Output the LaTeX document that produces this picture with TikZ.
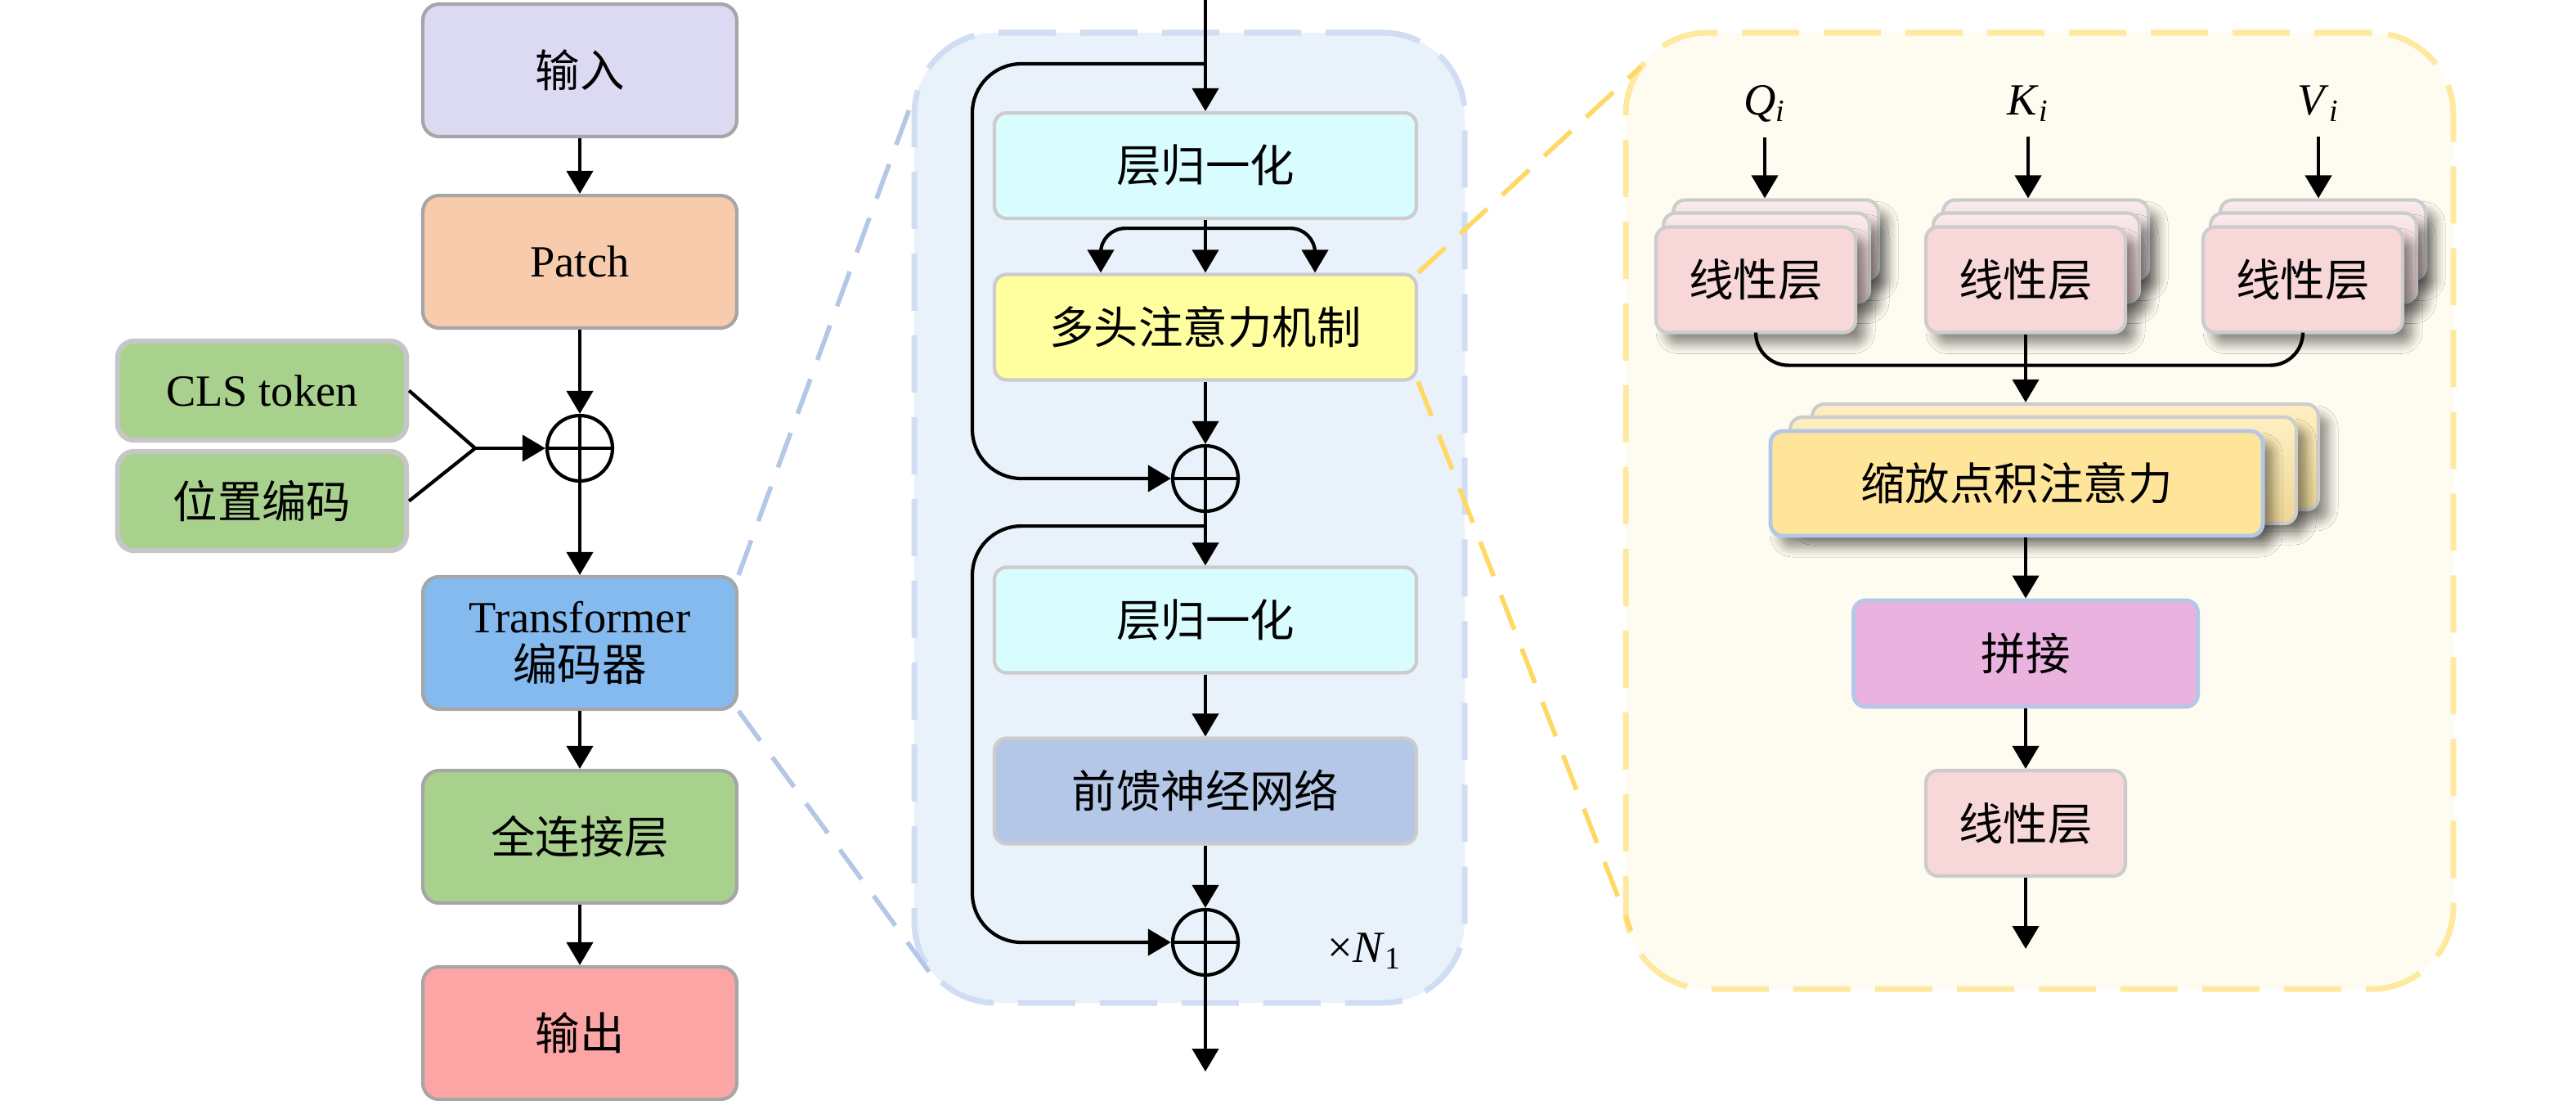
\documentclass[tikz,border=0pt]{standalone}
\usepackage{fontspec}
\setmainfont{Liberation Serif}
\newfontfamily\cjk{Noto Sans CJK SC}
\usetikzlibrary{positioning,arrows.meta,shadows.blur}

\definecolor{inputcol}{RGB}{220,218,242}
\definecolor{patchcol}{RGB}{248,203,173}
\definecolor{greencol}{RGB}{169,209,142}
\definecolor{transcol}{RGB}{133,186,238}
\definecolor{outcol}{RGB}{252,165,165}
\definecolor{normcol}{RGB}{217,252,255}
\definecolor{mhacol}{RGB}{255,255,160}
\definecolor{ffncol}{RGB}{180,199,231}
\definecolor{linecol}{RGB}{248,215,217}
\definecolor{sdpacol}{RGB}{255,229,153}
\definecolor{catcol}{RGB}{234,179,223}
\definecolor{encfill}{RGB}{233,241,250}
\definecolor{encline}{RGB}{208,221,243}
\definecolor{attfill}{RGB}{254,251,240}
\definecolor{attline}{RGB}{255,233,160}
\definecolor{bluedash}{RGB}{180,199,231}
\definecolor{yellowdash}{RGB}{255,217,102}

\newcommand{\zh}[1]{{\cjk #1}}

\begin{document}
\begin{tikzpicture}[on grid,
    font=\fontsize{15.5pt}{18pt}\selectfont,
    block/.style={draw=gray!70, line width=1.2pt, rounded corners=2mm, minimum width=3.84cm, minimum height=1.62cm, align=center, inner sep=0pt},
    tokbox/.style={block, draw=gray!45, line width=1.8pt, fill=greencol, minimum width=3.53cm, minimum height=1.21cm},
    encbox/.style={draw=gray!40, line width=1.2pt, rounded corners=1.5mm, minimum width=5.16cm, minimum height=1.29cm, inner sep=0pt},
    softshadow/.style={blur shadow={shadow xshift=1.2mm, shadow yshift=-1.4mm, shadow blur radius=1.2mm, shadow blur steps=8, shadow opacity=45}},
    linbox/.style={draw=gray!40, line width=1.2pt, rounded corners=1.5mm, fill=linecol, minimum width=2.44cm, minimum height=1.29cm, inner sep=0pt},
    linback/.style={linbox, softshadow, top color=linecol!50!white, bottom color=linecol!80!gray},
    sdpaback/.style={draw=gray!40, line width=1.2pt, rounded corners=1.5mm, softshadow, top color=sdpacol!60!white, bottom color=sdpacol!85!gray, minimum width=6.19cm, minimum height=1.29cm},
    addop/.style={circle, draw, line width=1.2pt, minimum size=0.8cm, inner sep=0pt,
        path picture={\draw[line width=1.2pt] (path picture bounding box.north) -- (path picture bounding box.south)
            (path picture bounding box.west) -- (path picture bounding box.east);}},
    arr/.style={-{Triangle[length=2.8mm,width=3.2mm]}, line width=1.2pt},
    wire/.style={line width=1.2pt},
    zoomline/.style={dash pattern=on 4.5mm off 2.5mm, line width=1.6pt},
    panel/.style={line width=2pt, dash pattern=on 7mm off 3mm, rounded corners=1cm}
]
\useasboundingbox (0,0) rectangle (31.5,-13.45);

% left column
\node[block, fill=inputcol] (input) at (7.09,-0.86) {\zh{输入}};
\node[block, fill=patchcol, below=2.34cm of input] (patch) {Patch};
\node[addop, below=2.28cm of patch] (add0) {};
\node[block, fill=transcol, below=2.38cm of add0] (trans) {Transformer\\[-1pt]\zh{编码器}};
\node[block, fill=greencol, below=2.37cm of trans] (fc) {\zh{全连接层}};
\node[block, fill=outcol, below=2.40cm of fc] (output) {\zh{输出}};
\node[tokbox, above left=0.705cm and 3.885cm of add0] (cls) {CLS token};
\node[tokbox, below=1.35cm of cls] (pos) {\zh{位置编码}};
\coordinate[left=1.28cm of add0] (join);

\draw[arr] (input) -- (patch);
\draw[arr] (patch) -- (add0);
\draw[arr] (add0) -- (trans);
\draw[arr] (trans) -- (fc);
\draw[arr] (fc) -- (output);
\draw[wire] (cls.east) -- (join) -- (pos.east);
\draw[arr] (join) -- (add0.west);

% encoder panel
\node[panel, draw=encline, fill=encfill, minimum width=6.73cm, minimum height=11.86cm] (enc) at (14.545,-6.33) {};
\node[encbox, fill=normcol] (norm1) at (14.74,-2.025) {\zh{层归一化}};
\node[encbox, fill=mhacol, below=1.975cm of norm1] (mha) {\zh{多头注意力机制}};
\node[addop, below=1.85cm of mha] (add1) {};
\node[encbox, fill=normcol, below=1.73cm of add1] (norm2) {\zh{层归一化}};
\node[encbox, fill=ffncol, below=2.09cm of norm2] (ffn) {\zh{前馈神经网络}};
\node[addop, below=1.85cm of ffn] (add2) {};
\node[right=1.95cm of add2, yshift=-0.11cm] (rep) {×\textit{N}\textsubscript{1}};

\coordinate (encin) at (14.74,0);
\coordinate[below=0.78cm of encin] (skip1);
\coordinate[below=0.16cm of add1.south] (skip2);
\coordinate (rail) at (11.89,0);
\coordinate[below=0.1cm of norm1.south] (split);
\coordinate[below=1.58cm of add2] (encout);

\draw[arr] (encin) -- (norm1.north);
\draw[arr, rounded corners=6mm] (skip1) -| (rail |- add1.west) -- (add1.west);
\draw[arr] (norm1.south) -- (mha.north);
\draw[arr, rounded corners=3mm] (split) -| ([xshift=-1.28cm]mha.north);
\draw[arr, rounded corners=3mm] (split) -| ([xshift=1.34cm]mha.north);
\draw[arr] (mha.south) -- (add1.north);
\draw[arr] (add1.south) -- (norm2.north);
\draw[arr, rounded corners=6mm] (skip2) -| (rail |- add2.west) -- (add2.west);
\draw[arr] (norm2.south) -- (ffn.north);
\draw[arr] (ffn.south) -- (add2.north);
\draw[arr] (add2.south) -- (encout);

% attention panel
\node[panel, draw=attline, fill=attfill, minimum width=10.12cm, minimum height=11.69cm] (att) at (24.94,-6.245) {};

\draw[zoomline, draw=bluedash] (trans.north east) -- ([yshift=-0.9cm]enc.north west);
\draw[zoomline, draw=bluedash] (trans.south east) -- ([shift={(0.3,0.3)}]enc.south west);
\draw[zoomline, draw=yellowdash] (mha.north east) -- ([shift={(0.22,-0.45)}]att.north west);
\draw[zoomline, draw=yellowdash] (mha.south east) -- ([shift={(0.1,0.75)}]att.south west);

\foreach \name/\x in {lq/21.47, lk/24.77, lv/28.16} {
  \node[linback, minimum width=2.51cm, minimum height=0.97cm] (\name2) at (\x+0.245,-2.93) {};
  \node[linback, minimum width=2.52cm, minimum height=1.09cm] (\name1) at (\x+0.13,-3.15) {};
  \node[linbox, softshadow] (\name) at (\x,-3.42) {\zh{线性层}};
}
\node (qin) at (21.58,-1.27) {\textit{Q}\textsubscript{\textit{i}}};
\node (kin) at (24.80,-1.27) {\textit{K}\textsubscript{\textit{i}}};
\node (vin) at (28.35,-1.27) {\textit{V}\textsubscript{\textit{i}}};

\node[sdpaback] (sdpa2) at (25.255,-5.585) {};
\node[sdpaback, minimum height=1.30cm] (sdpa1) at (24.985,-5.75) {};
\node[draw=bluedash, line width=1.4pt, rounded corners=1.5mm, fill=sdpacol, softshadow, minimum width=6.02cm, minimum height=1.28cm] (sdpa) at (24.66,-5.91) {\zh{缩放点积注意力}};
\node[draw=bluedash, line width=1.4pt, rounded corners=1.5mm, fill=catcol, minimum width=4.21cm, minimum height=1.30cm, below=4.57cm of lk] (cat) {\zh{拼接}};
\node[linbox, below=2.075cm of cat] (lo) {\zh{线性层}};
\coordinate[below=1.535cm of lo] (attout);
\coordinate[below=0.38cm of lk.south] (merge);

\draw[arr] ([yshift=-0.06cm]qin.south) -- (qin.south |- lq2.north);
\draw[arr] ([yshift=-0.06cm]kin.south) -- (kin.south |- lk2.north);
\draw[arr] ([yshift=-0.06cm]vin.south) -- (vin.south |- lv2.north);
\draw[wire, rounded corners=4mm] (lq.south) |- (merge) -| (lv.south);
\draw[arr] (lk.south) -- (lk.south |- sdpa2.north);
\draw[arr] (sdpa.south -| cat.north) -- (cat.north);
\draw[arr] (cat.south) -- (lo.north);
\draw[arr] (lo.south) -- (attout);
\end{tikzpicture}
\end{document}
